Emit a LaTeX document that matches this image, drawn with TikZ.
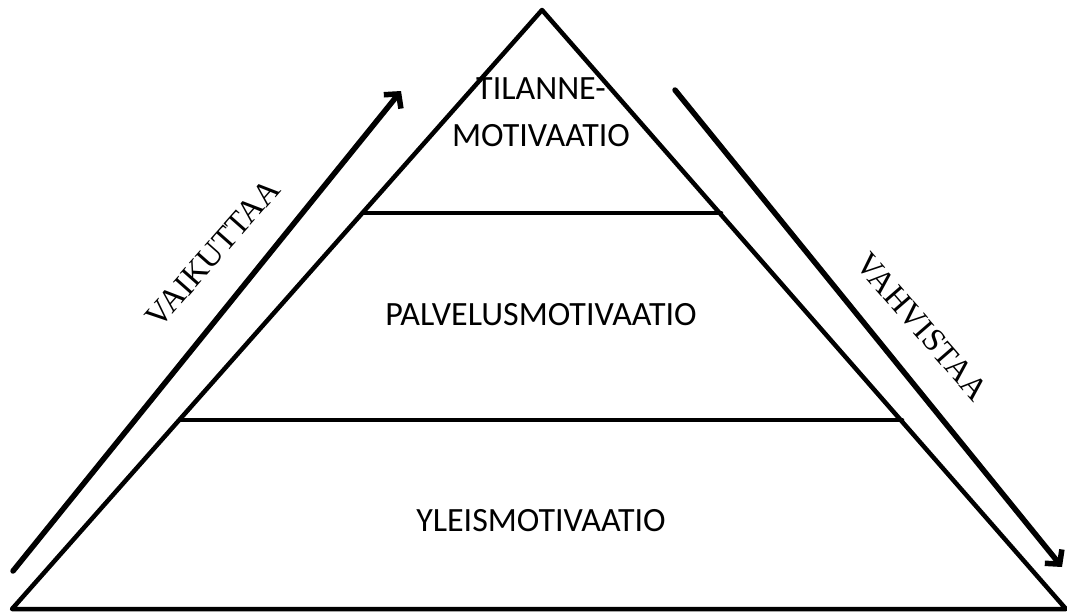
\documentclass[tikz,border=0pt]{standalone}
\usepackage{fontspec}
\setmainfont{Carlito}
\newfontfamily\serifnames{Liberation Serif}
\usetikzlibrary{arrows.meta}
\begin{document}
\begin{tikzpicture}[x=1pt,y=-1pt,line join=round, line cap=round,
	>={Straight Barb[length=10pt,width=22pt,line width=5.5pt]},
	level/.style={font=\fontsize{34}{47}\selectfont, align=center},
	sidelabel/.style={font=\serifnames\fontsize{32.5}{36}\selectfont}]
	\useasboundingbox (0,0) rectangle (1067,614);
	% pyramid
	\coordinate (top) at (542,10);
	\coordinate (bl) at (12,609);
	\coordinate (br) at (1066,609);
	\draw[line width=4.5pt] (bl) -- (top) -- (br) -- cycle;
	\draw[line width=4.5pt] (363,213) coordinate (a1) -- (721,213) coordinate (a2);
	\draw[line width=4.5pt] (180,420) coordinate (b1) -- (902,420) coordinate (b2);
	\node[level] (tilanne) at (541,112) {TILANNE-\\MOTIVAATIO};
	\node[level] (palvelus) at (541,315) {PALVELUSMOTIVAATIO};
	\node[level] (yleis) at (541,521) {YLEISMOTIVAATIO};
	% arrows
	\coordinate (up0) at (13,571);
	\coordinate (up1) at (401,91);
	\coordinate (dn0) at (675,90);
	\coordinate (dn1) at (1062,567);
	\draw[->, line width=5.5pt] (up0) -- (up1);
	\draw[->, line width=5.5pt] (dn0) -- (dn1);
	\node[sidelabel, rotate=48.5] (vaikuttaa) at (213,253) {VAIKUTTAA};
	\node[sidelabel, rotate=-49] (vahvistaa) at (922,327) {VAHVISTAA};
\end{tikzpicture}
\end{document}
